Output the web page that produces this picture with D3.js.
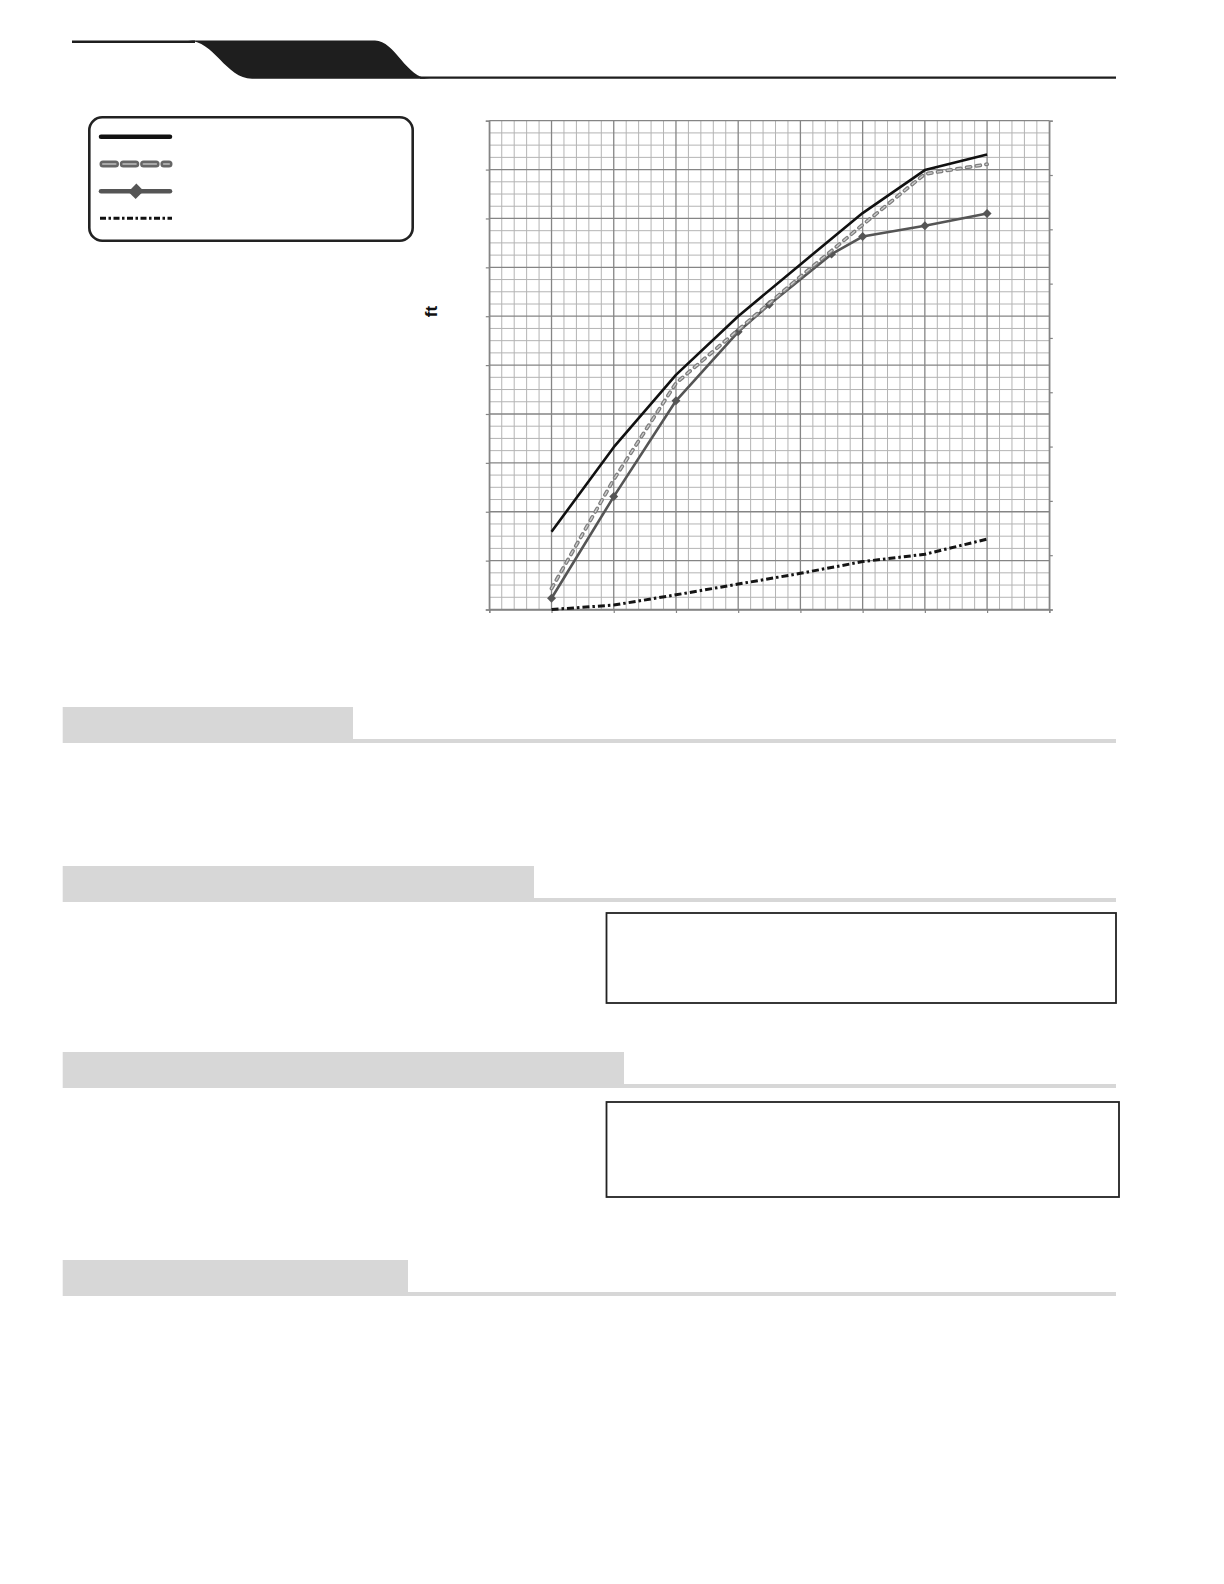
<!DOCTYPE html>
<html>
<head>
<meta charset="utf-8">
<script src="https://cdn.jsdelivr.net/npm/d3@7"></script>
<style>
    html, body { margin: 0; padding: 0; background: #ffffff; }
    svg { display: block; }
</style>
</head>
<body>
<svg id="page" width="1224" height="1584"></svg>
<script>

// Flow values (x) for each curve
const flowSolid = [10, 20, 30, 40, 50, 60, 70, 80]
const flowDashed = [10, 20, 30, 40, 50, 60, 70, 80]
const flowDiamond = [10, 20, 30, 40, 45, 55, 60, 70, 80]
const flowDashDot = [10, 20, 30, 40, 50, 60, 70, 80]

// Head values (ft)
const headSolid = [15.9, 33.2, 48.0, 60.0, 70.6, 81.1, 89.9, 93.1]
const headDashed = [4.3, 26.6, 46.3, 57.2, 68.1, 78.7, 89.1, 91.1]
const headDiamond = [2.3, 23.1, 42.7, 56.8, 62.4, 72.7, 76.3, 78.5, 81.0]
const headDashDot = [0.0, 0.9, 3.0, 5.2, 7.4, 9.8, 11.3, 14.4]

// Axis ticks (no labels are printed)
const xMajorTicks = d3.range(0, 91, 10)
const xMinorTicks = d3.range(0, 91, 2)
const yMajorTicks = d3.range(0, 101, 10)
const yMinorTicks = d3.range(0, 101, 2.5)
const yRightTicks = d3.range(0, 10, 1)

// Section headers: widths of the grey title blocks and their top
const headerTops = [707, 866, 1052, 1260]
const headerRights = [353, 534, 624, 408]

// Framed boxes under sections 2 and 3
const boxTops = [913, 1102]
const boxBottoms = [1003, 1197]
const boxRights = [1116, 1119]


let svg = d3.select("#page")

// Plot area
const plotLeft = 489.3, plotRight = 1049.3, plotTop = 120.7, plotBottom = 609.5

let x = d3.scaleLinear().domain([0, 90]).range([plotLeft, plotRight])
let y = d3.scaleLinear().domain([0, 100]).range([plotBottom, plotTop])
let yRight = d3.scaleLinear().domain([0, 9]).range([plotBottom, plotTop])


// ---------- Page header band ----------
let headerG = svg.append("g")

headerG.append("line")
    .attr("x1", 72).attr("x2", 195)
    .attr("y1", 41.8).attr("y2", 41.8)
    .attr("stroke", "#1e1e1e").attr("stroke-width", 2.4)

headerG.append("line")
    .attr("x1", 420).attr("x2", 1116)
    .attr("y1", 77.6).attr("y2", 77.6)
    .attr("stroke", "#1e1e1e").attr("stroke-width", 2.4)

// Black tab with S-shaped sides
headerG.append("path")
    .attr("d", "M188,40.6 L375,40.6 C395,40.6 406,78.8 430,78.8 L252,78.8 C226,78.8 214,40.6 188,40.6 Z")
    .attr("fill", "#1e1e1e")


// ---------- Legend box ----------
let legendG = svg.append("g")

legendG.append("rect")
    .attr("x", 89.3).attr("y", 117.3)
    .attr("width", 323.4).attr("height", 123.4)
    .attr("rx", 13).attr("ry", 13)
    .attr("fill", "white")
    .attr("stroke", "#222").attr("stroke-width", 2.6)

legendG.append("line")
    .attr("x1", 101).attr("x2", 170).attr("y1", 136.7).attr("y2", 136.7)
    .attr("stroke", "#111").attr("stroke-width", 4.5).attr("stroke-linecap", "round")

legendG.append("line")
    .attr("x1", 103).attr("x2", 169).attr("y1", 164).attr("y2", 164)
    .attr("stroke", "#666").attr("stroke-width", 7).attr("stroke-linecap", "round")
    .attr("stroke-dasharray", "12.5,7.8")
legendG.append("line")
    .attr("x1", 103).attr("x2", 169).attr("y1", 164).attr("y2", 164)
    .attr("stroke", "#a8a8a8").attr("stroke-width", 2.2).attr("stroke-linecap", "round")
    .attr("stroke-dasharray", "12.5,7.8")

legendG.append("line")
    .attr("x1", 101).attr("x2", 170).attr("y1", 191.3).attr("y2", 191.3)
    .attr("stroke", "#555").attr("stroke-width", 4.5).attr("stroke-linecap", "round")
legendG.append("path")
    .attr("d", d3.symbol(d3.symbolSquare, 118)())
    .attr("transform", "translate(136,191.3) rotate(45) scale(0.95,1.05)")
    .attr("fill", "#555")

legendG.append("line")
    .attr("x1", 100).attr("x2", 172).attr("y1", 218.3).attr("y2", 218.3)
    .attr("stroke", "#111").attr("stroke-width", 3)
    .attr("stroke-dasharray", "6,2.5,2.5,2.5")


// ---------- Chart grid ----------
let gridG = svg.append("g")

// Minor vertical lines
gridG.selectAll(".xminor")
    .data(xMinorTicks.filter(v => v % 10 != 0))
    .enter().append("line")
    .attr("class", "xminor")
    .attr("x1", d => x(d)).attr("x2", d => x(d))
    .attr("y1", plotTop).attr("y2", plotBottom)
    .attr("stroke", "#b4b4b4").attr("stroke-width", 1)

// Minor horizontal lines
gridG.selectAll(".yminor")
    .data(yMinorTicks.filter(v => v % 10 != 0))
    .enter().append("line")
    .attr("class", "yminor")
    .attr("x1", plotLeft).attr("x2", plotRight)
    .attr("y1", d => y(d)).attr("y2", d => y(d))
    .attr("stroke", "#b4b4b4").attr("stroke-width", 1)

// Major lines
gridG.selectAll(".xmajor")
    .data(xMajorTicks)
    .enter().append("line")
    .attr("class", "xmajor")
    .attr("x1", d => x(d)).attr("x2", d => x(d))
    .attr("y1", plotTop).attr("y2", plotBottom)
    .attr("stroke", "#858585").attr("stroke-width", 1.3)

gridG.selectAll(".ymajor")
    .data(yMajorTicks)
    .enter().append("line")
    .attr("class", "ymajor")
    .attr("x1", plotLeft).attr("x2", plotRight)
    .attr("y1", d => y(d)).attr("y2", d => y(d))
    .attr("stroke", "#858585").attr("stroke-width", 1.3)


// ---------- Axes (ticks only) ----------
let axisLeft = svg.append("g")
    .attr("transform", "translate(" + plotLeft + ",0)")
    .call(d3.axisLeft(y).tickValues(yMajorTicks).tickSize(3.5).tickFormat(""))
let axisBottom = svg.append("g")
    .attr("transform", "translate(0," + plotBottom + ")")
    .call(d3.axisBottom(x).tickValues(xMajorTicks).tickSize(3.5).tickFormat(""))
let axisRight = svg.append("g")
    .attr("transform", "translate(" + plotRight + ",0)")
    .call(d3.axisRight(yRight).tickValues(yRightTicks).tickSize(3.5).tickFormat(""))

for (let axis of [axisLeft, axisBottom, axisRight]) {
    axis.select(".domain").attr("stroke", "#858585").attr("stroke-width", 1.3)
    axis.selectAll(".tick line").attr("stroke", "#858585").attr("stroke-width", 1.2)
}

// Axis unit
svg.append("text")
    .attr("transform", "translate(437,311.5) rotate(-90)")
    .attr("text-anchor", "middle")
    .attr("font-family", "Liberation Sans, Arial, sans-serif")
    .attr("font-weight", "bold")
    .attr("font-size", 17)
    .attr("fill", "#111")
    .text("ft")


// ---------- Curves ----------
let line = d3.line().x(d => x(d[0])).y(d => y(d[1]))
let curvesG = svg.append("g")

let dashDot = d3.zip(flowDashDot, headDashDot)
let dashed = d3.zip(flowDashed, headDashed)
let diamond = d3.zip(flowDiamond, headDiamond)
let solid = d3.zip(flowSolid, headSolid)

curvesG.append("path")
    .attr("d", line(dashDot))
    .attr("fill", "none")
    .attr("stroke", "#151515").attr("stroke-width", 3)
    .attr("stroke-dasharray", "7,3,2.5,3")

curvesG.append("path")
    .attr("d", line(solid))
    .attr("fill", "none")
    .attr("stroke", "#111").attr("stroke-width", 2.6)
    .attr("stroke-linejoin", "round")

curvesG.append("path")
    .attr("d", line(diamond))
    .attr("fill", "none")
    .attr("stroke", "#555").attr("stroke-width", 2.6)
    .attr("stroke-linejoin", "round")

curvesG.selectAll(".marker")
    .data(diamond)
    .enter().append("path")
    .attr("class", "marker")
    .attr("d", d3.symbol(d3.symbolSquare, 40)())
    .attr("transform", d => "translate(" + x(d[0]) + "," + y(d[1]) + ") rotate(45)")
    .attr("fill", "#555")

curvesG.append("path")
    .attr("d", line(dashed))
    .attr("fill", "none")
    .attr("stroke", "#7e7e7e").attr("stroke-width", 3.8)
    .attr("stroke-linecap", "round")
    .attr("stroke-dasharray", "4,5.8")
curvesG.append("path")
    .attr("d", line(dashed))
    .attr("fill", "none")
    .attr("stroke", "#cfcfcf").attr("stroke-width", 1.3)
    .attr("stroke-linecap", "round")
    .attr("stroke-dasharray", "4,5.8")


// ---------- Section headers ----------
let sectionsG = svg.append("g")

for (let i in headerTops) {
    sectionsG.append("rect")
        .attr("x", 62.7).attr("y", headerTops[i])
        .attr("width", headerRights[i] - 62.7).attr("height", 36)
        .attr("fill", "#d7d7d7")
    sectionsG.append("rect")
        .attr("x", headerRights[i]).attr("y", headerTops[i] + 32)
        .attr("width", 1116 - headerRights[i]).attr("height", 4)
        .attr("fill", "#d7d7d7")
}

for (let i in boxTops) {
    sectionsG.append("rect")
        .attr("x", 606.5).attr("y", boxTops[i])
        .attr("width", boxRights[i] - 606.5).attr("height", boxBottoms[i] - boxTops[i])
        .attr("fill", "none")
        .attr("stroke", "#222").attr("stroke-width", 1.8)
}

</script>
</body>
</html>
